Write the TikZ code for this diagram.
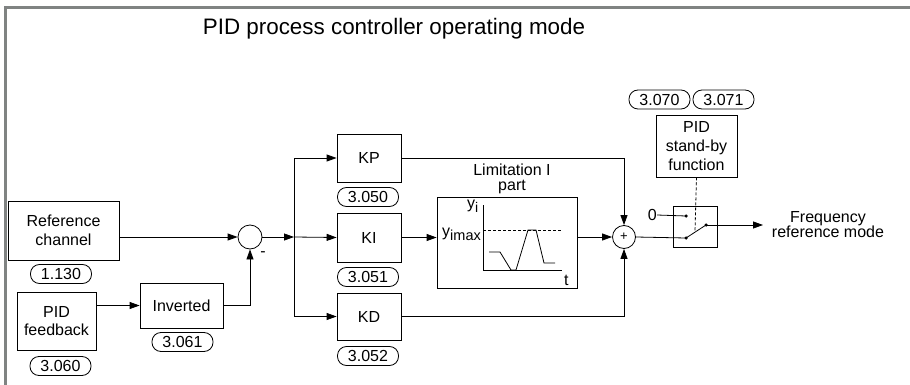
\documentclass[tikz,border=0pt]{standalone}
\usepackage{fontspec}
\setmainfont{Liberation Sans}
\usetikzlibrary{arrows.meta,positioning}
\definecolor{framegray}{RGB}{128,131,130}
\tikzset{
  every node/.style={font=\fontsize{16pt}{19pt}\selectfont, inner sep=0pt},
  blk/.style={draw, line width=0.8pt, align=center},
  parbox/.style={draw, line width=0.8pt, rounded corners=9pt, minimum width=61pt, minimum height=19pt},
  arr/.style={line width=0.8pt, -{Triangle[length=10pt,width=7pt]}},
  ln/.style={line width=0.8pt},
  sumc/.style={draw, circle, line width=0.8pt},
  dot/.style={circle, fill, minimum size=3.5pt, inner sep=0pt},
}
\begin{document}
\begin{tikzpicture}[x=1pt,y=-1pt]
\useasboundingbox (0,0) rectangle (910,385);
% frame
\draw[framegray, line width=3pt] (5.5,385) -- (5.5,7.5) -- (910,7.5);
% title
\node[font=\fontsize{22.4pt}{26pt}\selectfont, anchor=base] (title) at (394,35) {PID process controller operating mode};
% left blocks
\node[blk, minimum width=111pt, minimum height=59pt] (refch) at (63.5,230.5) {Reference\\channel};
\node[parbox] (p1130) at (61,274) {1.130};
\node[blk, minimum width=79pt, minimum height=58pt, font=\fontsize{16pt}{18pt}\selectfont] (fb) at (56.5,321) {PID\\feedback};
\node[parbox] (p3060) at (60.5,366) {3.060};
\node[blk, minimum width=83pt, minimum height=45pt] (inv) at (181.5,305.5) {Inverted};
\node[parbox] (p3061) at (182.5,342) {3.061};
% summing junction
\node[sumc, minimum size=24pt] (sum1) at (250,237) {};
\node (minus) at (263,254) {-};
\coordinate (jn) at (294,237);
% PID blocks
\node[blk, minimum width=64pt, minimum height=48pt] (kp) at (369,158) {KP};
\node[parbox] (p3050) at (368,197) {3.050};
\node[blk, minimum width=64pt, minimum height=49pt] (ki) at (369,237.5) {KI};
\node[parbox] (p3051) at (368,277) {3.051};
\node[blk, minimum width=64pt, minimum height=47pt] (kd) at (369,316.5) {KD};
\node[parbox] (p3052) at (368,356) {3.052};
% limitation block
\node[blk, minimum width=140pt, minimum height=91pt] (lim) at (507,242.5) {};
\node[align=center, font=\fontsize{16pt}{15pt}\selectfont] (limlbl) at (512,179) {Limitation I\\part};
\draw[ln] (483,205) -- (483,270) -- (562,270);
\draw[ln, dashed, dash pattern=on 3pt off 2pt] (483,230) -- (562,230);
\draw[ln] (489,252) -- (500,252) -- (511,270) -- (516,270) -- (528,230) -- (536,230) -- (544,263) -- (555,263);
\node[anchor=base west] (yi) at (467,208) {y\raisebox{-4pt}{\fontsize{14pt}{14pt}\selectfont i}};
\node[anchor=base west] (ymax) at (442,236) {y\raisebox{-4pt}{\fontsize{14.5pt}{14pt}\selectfont imax}};
\node[anchor=base west] (tlbl) at (564,285) {t};
% second summing junction
\node[sumc, minimum size=23pt, font=\fontsize{13pt}{13pt}\selectfont] (sum2) at (624,237) {+};
% switch
\node[blk, minimum width=44pt, minimum height=41pt] (sw) at (695,226.5) {};
\node[dot] (d0) at (686,216) {};
\node[dot] (dlo) at (686,238) {};
\node[dot] (dout) at (706,225) {};
\node[anchor=east] (zero) at (657,215) {0};
\node[blk, minimum width=81pt, minimum height=62pt] (stby) at (696.5,146) {PID\\stand-by\\function};
\node[parbox] (p3070) at (659.5,99.5) {3.070};
\node[parbox] (p3071) at (723.5,99.5) {3.071};
\node[align=center, font=\fontsize{16pt}{15pt}\selectfont] (freq) at (828,225) {Frequency\\reference mode};
\coordinate (fout) at (763,225);
% connectors
\draw[arr] (refch.east |- sum1.west) -- (sum1.west);
\draw[arr] (fb.east |- inv.west) -- (inv.west);
\draw[arr] (inv.east) -| (sum1.south);
\draw[arr] (sum1.east) -- (jn);
\draw[arr] (jn) -- (ki.west);
\draw[arr] (jn) |- (kp.west);
\draw[arr] (jn) |- (kd.west);
\draw[arr] (kp.east) -| (sum2.north);
\draw[arr] (ki.east) -- (lim.west |- ki.east);
\draw[arr] (lim.east |- sum2.west) -- (sum2.west);
\draw[arr] (kd.east) -| (sum2.south);
\draw[ln] (sum2.east) -- (dlo.center);
\draw[ln] (zero.east) -- (d0.center);
\draw[ln] (dlo.center) -- (dout.center);
\draw[arr] (dout.center) -- (fout);
\draw[ln, dashed, dash pattern=on 3pt off 2pt] (stby.south) -- (695,231);
\end{tikzpicture}
\end{document}
